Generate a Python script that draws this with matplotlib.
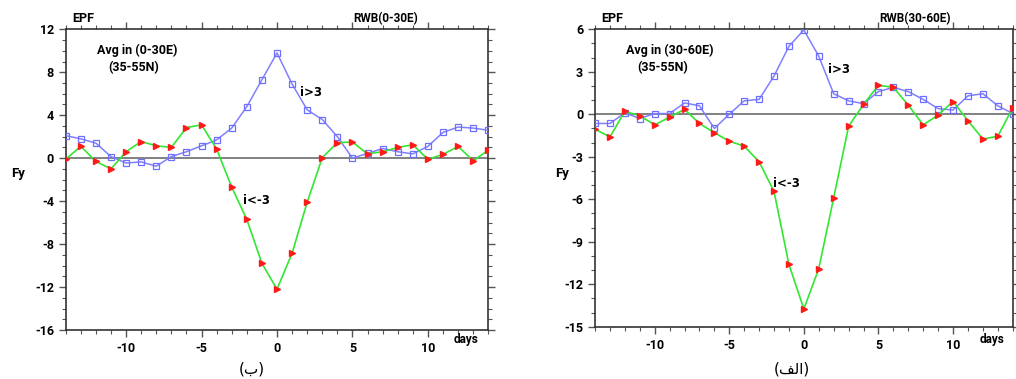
import numpy as np
import matplotlib
matplotlib.use("Agg")
import matplotlib.pyplot as plt
from matplotlib.ticker import MultipleLocator

days = np.arange(-14, 15)

# panel (ب): 0-30E
blue_0_30 = [2.1, 1.8, 1.4, 0.15, -0.45, -0.35, -0.75, 0.15, 0.6, 1.15, 1.7, 2.8, 4.8,
             7.3, 9.8, 6.9, 4.5, 3.6, 2.0, 0.0, 0.45, 0.9, 0.6, 0.4, 1.1, 2.4, 2.9, 2.8, 2.6]
green_0_30 = [-0.1, 1.1, -0.3, -1.0, 0.6, 1.55, 1.15, 1.0, 2.85, 3.1, 0.85, -2.7, -5.7,
              -9.8, -12.2, -8.85, -4.1, 0.05, 1.45, 1.5, 0.4, 0.6, 1.0, 1.25, -0.1, 0.35, 1.1, -0.25, 0.75]

# panel (الف): 30-60E
blue_30_60 = [-0.65, -0.65, 0.1, -0.3, 0.05, 0.05, 0.8, 0.6, -1.0, 0.0, 0.95, 1.05, 2.7,
              4.8, 5.95, 4.1, 1.45, 0.95, 0.75, 1.6, 1.9, 1.6, 1.05, 0.4, 0.3, 1.3, 1.45, 0.6, 0.05]
green_30_60 = [-1.05, -1.6, 0.2, -0.1, -0.75, -0.2, 0.35, -0.65, -1.3, -1.9, -2.25, -3.35, -5.45,
               -10.6, -13.75, -10.9, -5.9, -0.85, 0.7, 2.05, 1.9, 0.65, -0.75, -0.05, 0.9, -0.45, -1.75, -1.55, 0.45]

plt.rcParams["font.family"] = ["Roboto", "DejaVu Sans"]
plt.rcParams["font.weight"] = "bold"
plt.rcParams["axes.unicode_minus"] = False

fig = plt.figure(figsize=(10.16, 3.79), dpi=100)


def draw_panel(rect, blue, green, ylim, ystep, region, caption, i_pos, j_pos, fy_x, days_x, cap_x):
    ax = fig.add_axes(rect)
    ax.axhline(0, color="#777777", lw=1.3, zorder=1)
    ax.plot(days, blue, color="#8080ff", lw=1.1, marker="s", ms=4, mfc="none",
            mec="#6f6fff", mew=0.9, zorder=3)
    ax.plot(days, green, color="#33e633", lw=1.2, marker=">", ms=3.8, mfc="#ff1a1a",
            mec="#ff1a1a", zorder=4)
    ax.set_xlim(-14, 14)
    ax.set_ylim(*ylim)
    ax.xaxis.set_major_locator(MultipleLocator(5))
    ax.xaxis.set_minor_locator(MultipleLocator(1))
    ax.yaxis.set_major_locator(MultipleLocator(ystep))
    ax.yaxis.set_minor_locator(MultipleLocator(1))
    ax.tick_params(which="both", direction="out", top=True, right=True, color="#555555")
    ax.tick_params(which="major", length=5, width=1, labelsize=9)
    ax.tick_params(which="minor", length=3, width=0.8)
    ax.set_xticks([-10, -5, 0, 5, 10])
    for lab in ax.get_xticklabels() + ax.get_yticklabels():
        lab.set_fontweight("bold")
    for s in ax.spines.values():
        s.set_color("#333333")
        s.set_linewidth(1.2)
    ax.text(0.015, 1.015, "EPF", transform=ax.transAxes, fontsize=9, fontweight="bold",
            va="bottom", ha="left")
    ax.text(0.68, 1.015, "RWB(" + region + ")", transform=ax.transAxes, fontsize=8.5,
            fontweight="bold", va="bottom", ha="left")
    ax.text(0.075, 0.93, "Avg in (" + region + ")", transform=ax.transAxes, fontsize=9,
            fontweight="bold", va="center", ha="left")
    ax.text(0.1, 0.872, "(35-55N)", transform=ax.transAxes, fontsize=9,
            fontweight="bold", va="center", ha="left")
    ax.text(i_pos[0], i_pos[1], "i>3", transform=ax.transAxes, fontsize=8.5,
            fontweight="bold", family=["DejaVu Sans"], va="center", ha="left")
    ax.text(j_pos[0], j_pos[1], "i<-3", transform=ax.transAxes, fontsize=8.5,
            fontweight="bold", family=["DejaVu Sans"], va="center", ha="left")
    fig.text(fy_x, 1 - 173 / 379, "Fy", fontsize=9.5, fontweight="bold", va="center", ha="center")
    fig.text(days_x, 1 - 339 / 379, "days", fontsize=8.5, fontweight="bold", va="center", ha="center")
    fig.text(cap_x, 1 - 369 / 379, caption, fontsize=11, fontweight="normal",
             family=["DejaVu Sans"], va="center", ha="center")
    return ax


# left: (ب)
draw_panel([65.7 / 1016, 1 - 330 / 379, (488.3 - 65.7) / 1016, (330 - 29.3) / 379],
           blue_0_30, green_0_30, (-16, 12), 4, "0-30E", "(\ufe8f)",
           (0.555, 0.79), (0.42, 0.43), 18 / 1016, 466 / 1016, 252 / 1016)

# right: (الف)
draw_panel([595 / 1016, 1 - 326.7 / 379, (1012.7 - 595) / 1016, (326.7 - 29.3) / 379],
           blue_30_60, green_30_60, (-15, 6), 3, "30-60E", "(\ufed2\ufedf\ufe8d)",
           (0.558, 0.865), (0.426, 0.483), 562 / 1016, 992 / 1016, 792 / 1016)

fig.savefig("out.png", dpi=100)
